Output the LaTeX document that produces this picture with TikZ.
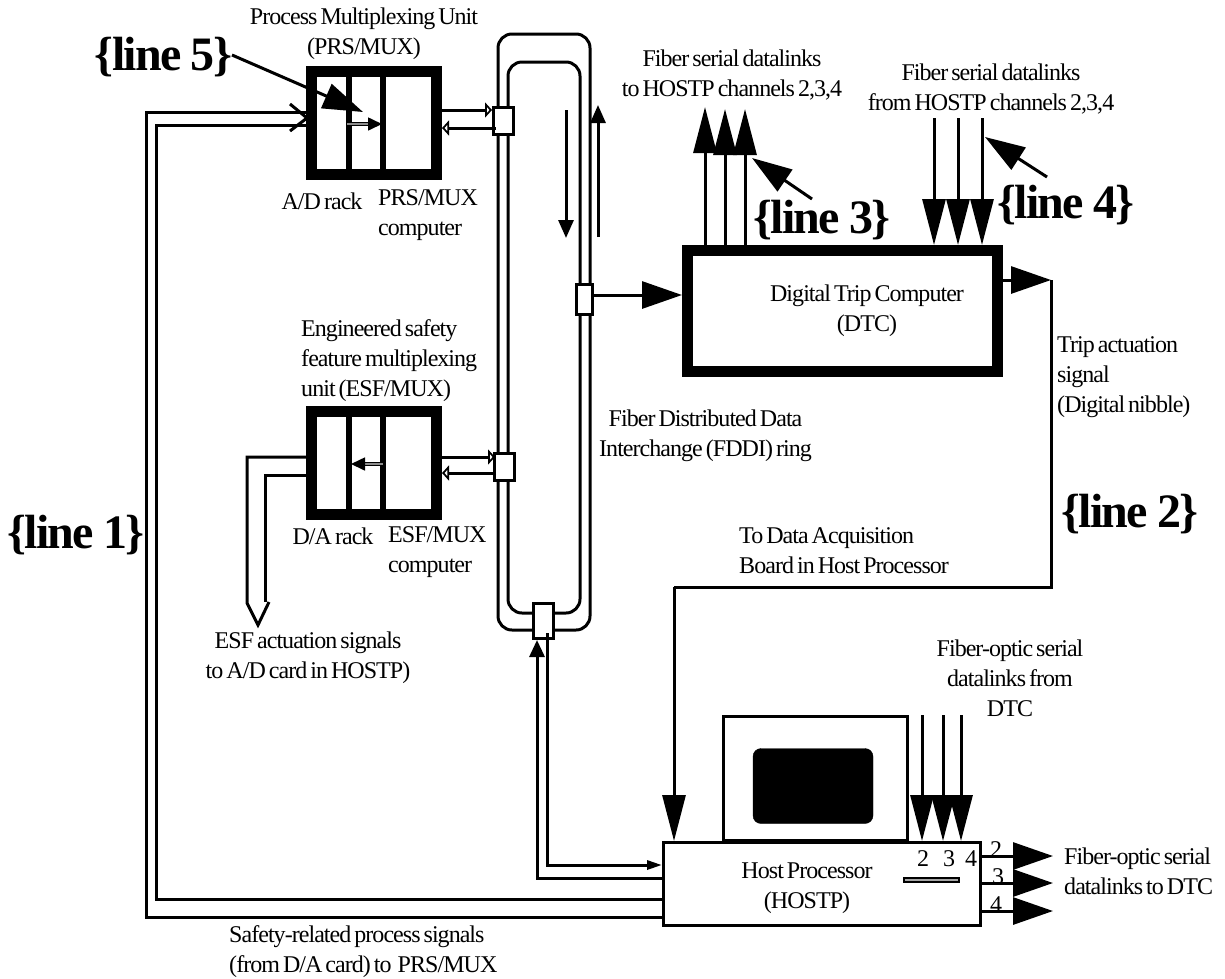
\documentclass[tikz,border=0pt]{standalone}
\usepackage{fontspec}
\setmainfont[LetterSpace=-4,WordSpace=0.6]{Liberation Serif}
\newfontfamily\tagfont[LetterSpace=-3.5,WordSpace=0.9]{Liberation Serif}
\usetikzlibrary{arrows.meta}
\tikzset{
    every node/.style={font=\fontsize{24}{30}\selectfont, align=center, inner sep=0pt},
    conn/.style={draw, line width=3pt},
    bigtip/.style={-{Triangle[length=46pt,width=23pt]}},
    sidetip/.style={-{Triangle[length=40pt,width=27pt]}},
    opentip/.style={-{Triangle[open,length=7pt,width=15pt]}},
    minitip/.style={line width=1.6pt, double=gray!90, double distance=1.5pt, -{Triangle[length=14pt,width=13pt]}},
    marktip/.style={line width=3pt, -{Triangle[length=40pt,width=26pt]}},
    ringtip/.style={conn, -{Triangle[length=18pt,width=15pt]}},
    rackbox/.style={draw, line width=11pt, minimum width=125pt, minimum height=103pt},
    station/.style={draw, fill=white, line width=3pt, minimum width=20pt, minimum height=27pt},
    ringpath/.style={draw, line width=3pt, rounded corners=14pt},
    tag/.style={font=\tagfont\fontsize{48}{50}\selectfont\bfseries}
}
\begin{document}
\begin{tikzpicture}[x=1pt,y=-1pt]
    \useasboundingbox (0,0) rectangle (1225,978);

    % fddi ring
    \node [ringpath, minimum width=92pt, minimum height=596pt] (ringouter) at (544,332) {};
    \node [ringpath, minimum width=72pt, minimum height=551pt] (ringinner) at (544,337.5) {};
    \node [station] (stationprs) at (503.5,121) {};
    \node [station] (stationesf) at (504,466.5) {};
    \node [station, minimum width=16pt, minimum height=30pt] (stationdtc) at (584.5,299.5) {};
    \node [station, minimum height=35pt] (stationhost) at (543.5,621) {};

    \coordinate (ringdowna) at (566,110);
    \coordinate (ringdownb) at (566,238);
    \coordinate (ringupa) at (598,237);
    \coordinate (ringupb) at (598,105);
    \draw [ringtip] (ringdowna) -- (ringdownb);
    \draw [ringtip] (ringupa) -- (ringupb);
    \node at (705.5,436) (fddilabel) {Fiber Distributed Data\\Interchange (FDDI) ring};

    % prs/mux
    \node [rackbox] (prsmux) at (374,123) {};
    \draw [line width=6pt] (349,72) -- (349,174);
    \draw [line width=6pt] (383,72) -- (383,174);
    \node at (364,34) (prstitle) {Process Multiplexing Unit\\(PRS/MUX)};
    \node at (322,201) (prsrack) {A/D rack};
    \node at (378,215) [anchor=west, align=left] (prscomp) {PRS/MUX\\computer};
    \coordinate (prsina) at (347,124);
    \coordinate (prsinb) at (382,124);
    \draw [minitip] (prsina) -- (prsinb);
    \draw [conn, opentip] (prsmux.east |- 0,110) -- (stationprs.west |- 0,110);
    \draw [conn, opentip] (496,128) -- (prsmux.east |- 0,128);

    % esf/mux
    \node [rackbox] (esfmux) at (374,463) {};
    \draw [line width=6pt] (349,412) -- (349,514);
    \draw [line width=6pt] (383,412) -- (383,514);
    \node at (301,361) [anchor=west, align=left] (esftitle) {Engineered safety\\feature multiplexing\\unit (ESF/MUX)};
    \node at (333,536) (esfrack) {D/A rack};
    \node at (388,552) [anchor=west, align=left] (esfcomp) {ESF/MUX\\computer};
    \coordinate (esfouta) at (383,464);
    \coordinate (esfoutb) at (351,464);
    \draw [minitip] (esfouta) -- (esfoutb);
    \draw [conn, opentip] (esfmux.east |- 0,457) -- (495,457);
    \draw [conn, opentip] (496,473) -- (esfmux.east |- 0,473);

    \coordinate (acta) at (247,457);
    \coordinate (actb) at (265,475);
    \coordinate (acttipa) at (247,603);
    \coordinate (acttip) at (258,625);
    \coordinate (acttipb) at (269,602);
    \draw [conn] (esfmux.west |- acta) -- (acta) -- (acttipa) -- (acttip) -- (acttipb);
    \draw [conn] (esfmux.west |- actb) -- (actb) -- (actb |- acttipb);
    \node at (308,658) (esfsig) {ESF actuation signals\\to A/D card in HOSTP)};

    % dtc
    \node [draw, line width=11pt, minimum width=310pt, minimum height=121pt] (dtc) at (842.5,311) {};
    \node at (867,311) (dtclabel) {Digital Trip Computer\\(DTC)};
    \coordinate (dtcin) at (587,295);
    \draw [conn, sidetip] (stationdtc.east |- dtcin) -- (dtc.west |- dtcin);
    \foreach \n/\x/\t in {a/705/107, b/725/109, c/745/109} {
        \coordinate (uptip\n) at (\x,\t);
        \draw [conn, bigtip] (dtc.north -| uptip\n) -- (uptip\n);
    }
    \foreach \n/\x in {a/934, b/958, c/982} {
        \coordinate (downend\n) at (\x,118);
        \draw [conn, bigtip] (downend\n) -- (dtc.north -| downend\n);
    }
    \node at (732,75) (totitle) {Fiber serial datalinks\\to HOSTP channels 2,3,4};
    \node at (991,89) (fromtitle) {Fiber serial datalinks\\from HOSTP channels 2,3,4};

    % trip line
    \coordinate (tripa) at (1051,280);
    \coordinate (tripb) at (1051,587);
    \coordinate (tripc) at (674,587);
    \draw [conn, sidetip] (dtc.east |- tripa) -- (tripa);
    \draw [conn] (tripa) -- (tripb) -- (tripc);
    \node at (1057,377) [anchor=west, align=left] (triplabel) {Trip actuation\\signal\\(Digital nibble)};
    \node at (739,551) [anchor=west, align=left] (acqlabel) {To Data Acquisition\\Board in Host Processor};

    % host
    \node [draw, line width=3pt, minimum width=184pt, minimum height=124pt, anchor=south] (monitor) at (815,842) {};
    \node [draw, fill=black, rounded corners=8pt, minimum width=120pt, minimum height=75pt] (screen) at (813,786) {};
    \node [draw, fill=white, line width=3pt, minimum width=317pt, minimum height=83pt] (hostp) at (822,884) {};
    \node at (807,888) (hostlabel) {Host Processor\\(HOSTP)};
    \draw [conn, bigtip] (tripc) -- (hostp.north -| tripc);
    \foreach \n/\x in {a/922, b/943, c/961} {
        \coordinate (inend\n) at (\x,715);
        \draw [conn, bigtip] (inend\n) -- (hostp.north -| inend\n);
    }
    \node [draw, fill=gray!70, line width=2pt, minimum width=55pt, minimum height=4pt] (slot) at (931.5,880) {};
    \node at (923,859) (numa) {2};
    \node at (949,859) (numb) {3};
    \node at (971,859) (numc) {4};
    \node at (996,850) (outa) {2};
    \node at (998,877) (outb) {3};
    \node at (996,905) (outc) {4};
    \foreach \n/\y in {a/856, b/883, c/911} {
        \coordinate (outtip\n) at (1053,\y);
        \draw [conn, sidetip] (hostp.east |- outtip\n) -- (outtip\n);
    }
    \node at (1064,871) [anchor=west, align=left] (dtcto) {Fiber-optic serial\\datalinks to DTC};
    \node at (1010,678) (dtcfrom) {Fiber-optic serial\\datalinks from\\DTC};

    % signals to ring and prs/mux
    \coordinate (hostupa) at (547,865);
    \coordinate (hostupb) at (537,878);
    \draw [conn, -{Triangle[length=15pt,width=9pt]}] (547,633) -- (hostupa) -- (hostp.west |- hostupa);
    \draw [conn, -{Triangle[length=17pt,width=15pt]}] (hostp.west |- hostupb) -- (hostupb) -- (hostupb |- stationhost.south);

    \coordinate (lineouta) at (146,112);
    \coordinate (lineoutb) at (146,917);
    \coordinate (lineina) at (156,125);
    \coordinate (lineinb) at (156,899);
    \coordinate (barba) at (290,104);
    \coordinate (barbtip) at (307,118);
    \coordinate (barbb) at (290,131);
    \draw [conn] (hostp.west |- lineoutb) -- (lineoutb) -- (lineouta) -- (prsmux.west |- lineouta);
    \draw [conn] (hostp.west |- lineinb) -- (lineinb) -- (lineina) -- (prsmux.west |- lineina);
    \draw [conn] (barba) -- (barbtip) -- (barbb);
    \node at (229,952) [anchor=west, align=left] (safelabel) {Safety-related process signals\\(from D/A card) to\ \ PRS/MUX};

    % line marks
    \node [tag] at (163.5,57) (linefive) {\{line 5\}};
    \node [tag] at (76,535) (lineone) {\{line 1\}};
    \node [tag] at (1130,514) (linetwo) {\{line 2\}};
    \node [tag] at (822,220) (linethree) {\{line 3\}};
    \node [tag] at (1066,205) (linefour) {\{line 4\}};
    \coordinate (fivetail) at (232,55);
    \coordinate (fivetip) at (363,112);
    \coordinate (threetail) at (812,199);
    \coordinate (threetip) at (752,158);
    \coordinate (fourtail) at (1047,177);
    \coordinate (fourtip) at (985,137);
    \draw [marktip] (fivetail) -- (fivetip);
    \draw [marktip] (threetail) -- (threetip);
    \draw [marktip] (fourtail) -- (fourtip);
\end{tikzpicture}
\end{document}
